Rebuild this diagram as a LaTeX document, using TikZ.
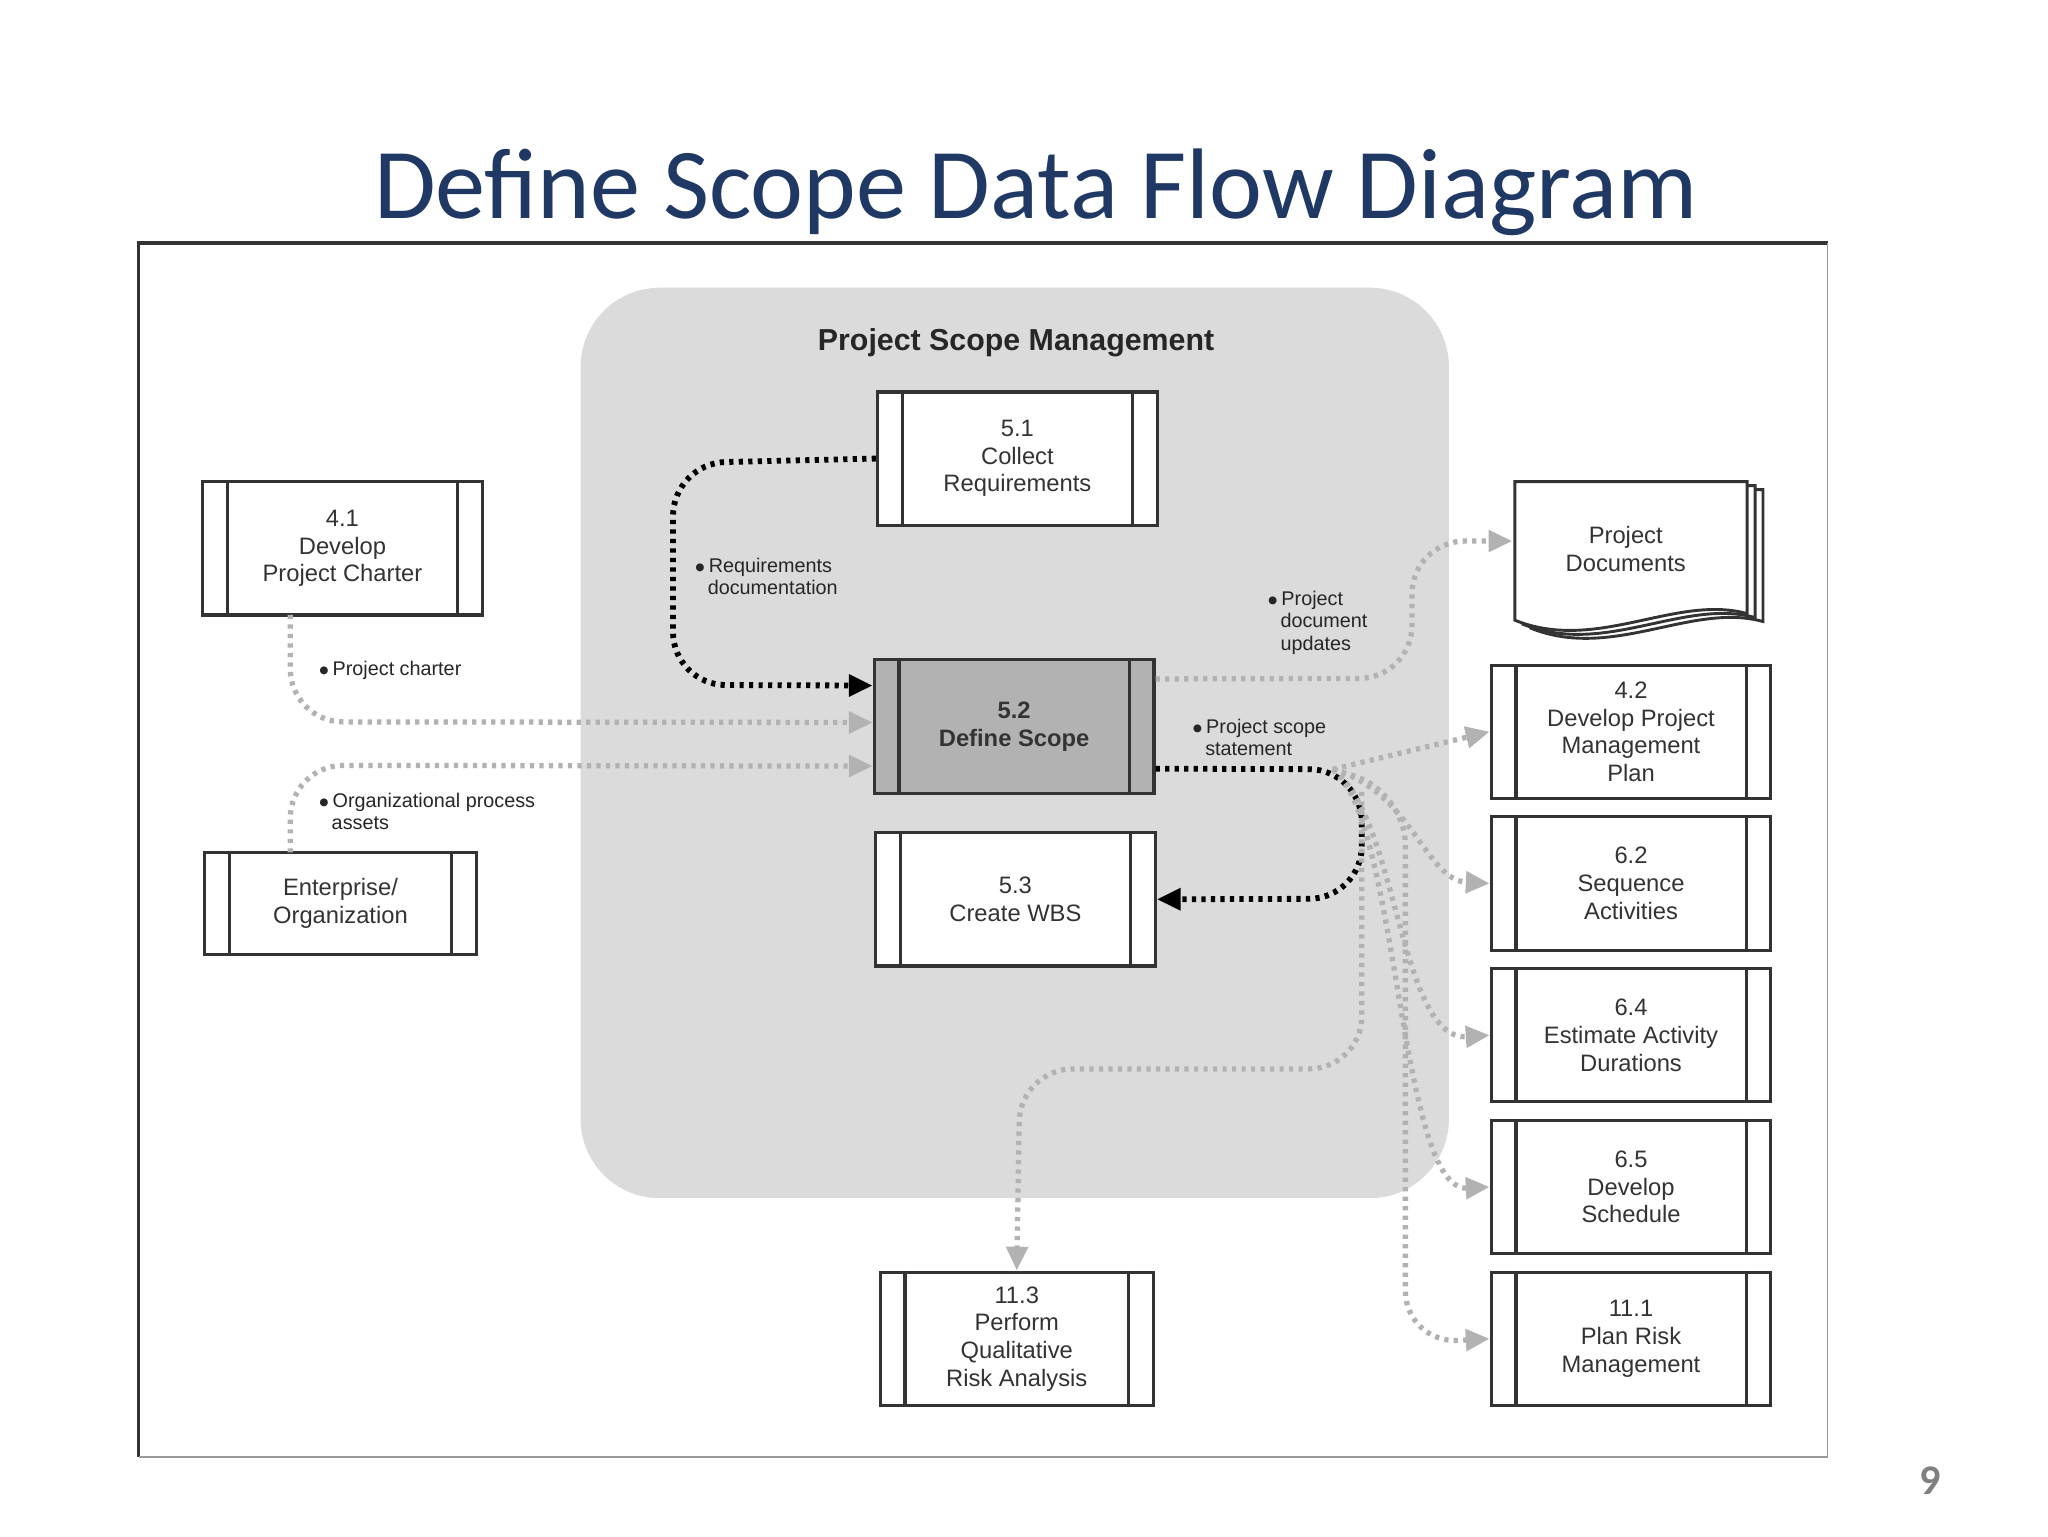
\documentclass[tikz,border=0pt]{standalone}
\usepackage{fontspec}
\setmainfont{Liberation Sans}
\newfontfamily\titlefont{Carlito}
\usetikzlibrary{arrows.meta}
\begin{document}
\begin{tikzpicture}[x=0.5pt,y=-0.5pt,
 proc/.style={draw=black!80,line width=1.2pt,fill=white,minimum width=106pt,minimum height=50.5pt,inner sep=0pt,align=center,font=\fontsize{9}{10.5}\selectfont\color{black!80}},
 bk/.style={line width=2.2pt,dash pattern=on 1.6pt off 2pt,rounded corners=20pt,-{Triangle[length=9pt,width=8pt]}},
 gr/.style={line width=2pt,gray!60,dash pattern=on 1.6pt off 2pt,rounded corners=20pt,-{Triangle[length=9pt,width=8pt]}},
 lbl/.style={font=\fontsize{7.5}{8.5}\selectfont,align=left,anchor=west,inner sep=0pt,text=black!85}]
\useasboundingbox (0,0) rectangle (1552,1164);
\fill[white] (0,0) rectangle (1552,1164);
\node[font=\titlefont\fontsize{38}{40}\selectfont,text={rgb,255:red,31;green,56;blue,100}] (title) at (785,146) {Define Scope Data Flow Diagram};
\node[font=\titlefont\fontsize{16}{18}\selectfont\bfseries,text=gray] (pg) at (1463,1122) {9};
\draw[line width=1.3pt,black!80] (105,1104) -- (105,184) -- (1385,184);
\draw[line width=0.6pt,black!40] (1385,184) -- (1385,1104) -- (105,1104);
\fill[black!14,rounded corners=30pt] (440,218) rectangle (1098,908);
\node[font=\fontsize{11.5}{13}\selectfont\bfseries,text=black!85] (psm) at (770,260) {Project Scope Management};
% process boxes
\newcommand{\pbox}[4]{\node[proc,#4] (#1) at (#2) {#3};
 \draw[line width=1.2pt,black!80] ([xshift=10pt]#1.north west) -- ([xshift=10pt]#1.south west) ([xshift=-10pt]#1.north east) -- ([xshift=-10pt]#1.south east);}
\pbox{p51}{771,347.5}{5.1\\Collect\\Requirements}{}
\pbox{p41}{259.5,415.5}{4.1\\Develop\\Project Charter}{}
\pbox{p52}{768.5,550.5}{\bfseries 5.2\\\bfseries Define Scope}{fill=black!30}
\pbox{p53}{769.5,681.5}{5.3\\Create WBS}{}
\pbox{ent}{258,684.5}{Enterprise/\\Organization}{minimum height=38.5pt,minimum width=103pt}
\pbox{p42}{1236,554.5}{4.2\\Develop Project\\Management\\Plan}{}
\pbox{p62}{1236,669.5}{6.2\\Sequence\\Activities}{}
\pbox{p64}{1236,784.5}{6.4\\Estimate Activity\\Durations}{}
\pbox{p65}{1236,899.5}{6.5\\Develop\\Schedule}{}
\pbox{p111}{1236,1014.5}{11.1\\Plan Risk\\Management}{}
\pbox{p113}{770.5,1014.5}{11.3\\Perform\\Qualitative\\Risk Analysis}{minimum width=103.5pt}
% project documents stack
\foreach \d in {12,6,0}{
\draw[line width=1.1pt,black!80,fill=white] (1148+\d,365+\d/2) -- (1324+\d,365+\d/2) -- (1324+\d,465+\d/2) .. controls (1270+\d,450+\d/2) and (1210+\d,495+\d/2) .. (1148+\d,470+\d/2) -- cycle;}
\node[font=\fontsize{9}{10.5}\selectfont,align=center,text=black!80] (pd) at (1232,416) {Project\\Documents};
\coordinate (pdin) at (1146,410);
\coordinate (c41) at (220,466);
\coordinate (cent) at (220,646);
% connectors
\draw[bk] (p51.west) -- (510,351) -- (510,519) -- ([yshift=15.5pt]p52.west);
\draw[gr] (c41) -- (220,547) -- ([yshift=1.5pt]p52.west);
\draw[gr] (cent) -- (220,580) -- ([yshift=-15pt]p52.west);
\draw[bk] ([yshift=-16pt]p52.east) -- (1032,583) -- (1032,681) -- (p53.east);
\draw[gr] ([yshift=18pt]p52.east) -- (1070,514) -- (1070,410) -- (pdin);
\coordinate (fan) at (1010,583);
\draw[gr,rounded corners=0pt] (fan) -- (p42.west);
\draw[gr,rounded corners=0pt] (fan) .. controls (1070,600) and (1080,667) .. (p62.west);
\draw[gr,rounded corners=0pt] (fan) .. controls (1060,620) and (1060,789) .. (p64.west);
\draw[gr,rounded corners=0pt] (fan) .. controls (1060,620) and (1060,903) .. (p65.west);
\draw[gr] (fan) -- (1065,600) -- (1065,1018) -- (p111.west);
\draw[gr] (1032,600) -- (1032,810) -- (773,810) -- (p113.north);
% labels
\node[lbl] (l1) at (526,437) {$\bullet$\,Requirements\\\hspace*{5pt}documentation};
\node[lbl] (l2) at (241,508) {$\bullet$\,Project charter};
\node[lbl] (l3) at (241,615) {$\bullet$\,Organizational process\\\hspace*{5pt}assets};
\node[lbl] (l4) at (960,472) {$\bullet$\,Project\\\hspace*{5pt}document\\\hspace*{5pt}updates};
\node[lbl] (l5) at (903,559) {$\bullet$\,Project scope\\\hspace*{5pt}statement};
\end{tikzpicture}
\end{document}
